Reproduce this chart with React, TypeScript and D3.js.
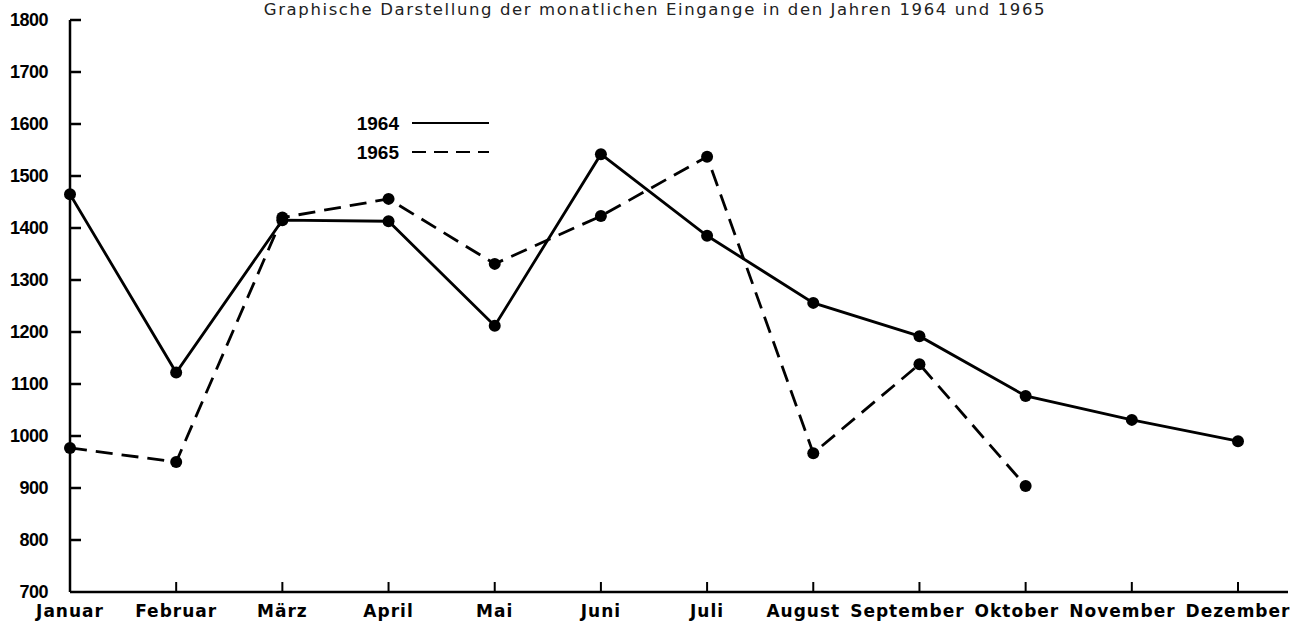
import React, { useEffect, useRef } from "react";
import * as d3 from "d3";

const months = ["Januar", "Februar", "März", "April", "Mai", "Juni", "Juli", "August", "September", "Oktober", "November", "Dezember"];
const values1964 = [1465, 1122, 1415, 1413, 1212, 1542, 1385, 1256, 1192, 1077, 1031, 990];
const values1965 = [977, 950, 1420, 1456, 1331, 1423, 1537, 967, 1138, 904];
const yTicks = [700, 800, 900, 1000, 1100, 1200, 1300, 1400, 1500, 1600, 1700, 1800];
const title = "Graphische Darstellung der monatlichen Eingange in den Jahren 1964 und 1965";

const App = () => {
  const svgRef = useRef<SVGSVGElement>(null);

  useEffect(() => {
    document.body.style.margin = "0";
    const svg = d3.select(svgRef.current);
    svg.selectAll("*").remove();

    const width = 1297;
    const height = 623;
    const left = 70;
    const right = 1238;
    const top = 20;
    const bottom = 592;

    const x = d3.scalePoint<string>().domain(months).range([left, right]);
    const y = d3.scaleLinear().domain([700, 1800]).range([bottom, top]);

    svg.attr("width", width).attr("height", height);

    // title
    svg
      .append("text")
      .attr("x", 655)
      .attr("y", 15)
      .attr("text-anchor", "middle")
      .style("font-family", "'DejaVu Sans', sans-serif")
      .style("font-size", "16.5px")
      .style("letter-spacing", "1.6px")
      .style("fill", "#222")
      .text(title);

    // axes
    svg.append("line").attr("x1", left).attr("x2", left).attr("y1", top).attr("y2", bottom)
      .attr("stroke", "black").attr("stroke-width", 2.5);
    svg.append("line").attr("x1", left).attr("x2", 1288).attr("y1", bottom).attr("y2", bottom)
      .attr("stroke", "black").attr("stroke-width", 2.5);

    const yAxis = svg.append("g");
    yTicks.forEach((t) => {
      if (t !== 700) {
        yAxis.append("line").attr("x1", left).attr("x2", left + 11).attr("y1", y(t)).attr("y2", y(t))
          .attr("stroke", "black").attr("stroke-width", 2.5);
      }
      yAxis
        .append("text")
        .attr("x", 48)
        .attr("y", y(t))
        .attr("dy", "0.36em")
        .attr("text-anchor", "end")
        .style("font-family", "'Liberation Sans', Arial, sans-serif")
        .style("font-weight", "bold")
        .style("font-size", "18px")
        .style("letter-spacing", "-0.5px")
        .text(t);
    });

    const xAxis = svg.append("g");
    months.forEach((m, i) => {
      if (i > 0) {
        xAxis.append("line").attr("x1", x(m)).attr("x2", x(m)).attr("y1", bottom).attr("y2", bottom - 10)
          .attr("stroke", "black").attr("stroke-width", 2);
      }
    });
    const labels = xAxis
      .selectAll("text")
      .data(months)
      .enter()
      .append("text")
      .attr("x", (d) => x(d) as number)
      .attr("y", 617)
      .attr("text-anchor", "middle")
      .style("font-family", "'DejaVu Sans', sans-serif")
      .style("font-weight", "bold")
      .style("font-size", "17px")
      .style("letter-spacing", "1px")
      .text((d) => d);

    // push crowded labels left so they fit inside the picture
    const nodes = labels.nodes() as SVGTextElement[];
    let limit = width - 5;
    for (let i = nodes.length - 1; i >= 0; i--) {
      const w = nodes[i].getComputedTextLength();
      let cx = x(months[i]) as number;
      if (cx + w / 2 > limit) cx = limit - w / 2;
      d3.select(nodes[i]).attr("x", cx);
      limit = cx - w / 2 - 10;
    }

    // lines
    const line = d3
      .line<number>()
      .x((d, i) => x(months[i]) as number)
      .y((d) => y(d));

    svg.append("path").datum(values1964).attr("d", line).attr("fill", "none")
      .attr("stroke", "black").attr("stroke-width", 2.8);
    svg.append("path").datum(values1965).attr("d", line).attr("fill", "none")
      .attr("stroke", "black").attr("stroke-width", 2.8).attr("stroke-dasharray", "17 9");

    [values1964, values1965].forEach((vals) => {
      svg
        .append("g")
        .selectAll("circle")
        .data(vals)
        .enter()
        .append("circle")
        .attr("cx", (d, i) => x(months[i]) as number)
        .attr("cy", (d) => y(d))
        .attr("r", 6)
        .attr("fill", "black");
    });

    // legend
    const legend = svg.append("g");
    [["1964", ""], ["1965", "14 8"]].forEach(([label, dash], i) => {
      const ly = 123 + i * 29;
      legend
        .append("text")
        .attr("x", 399)
        .attr("y", ly)
        .attr("dy", "0.36em")
        .attr("text-anchor", "end")
        .style("font-family", "'Liberation Sans', Arial, sans-serif")
        .style("font-weight", "bold")
        .style("font-size", "19px")
        .text(label);
      legend
        .append("line")
        .attr("x1", 412)
        .attr("x2", 489)
        .attr("y1", ly)
        .attr("y2", ly)
        .attr("stroke", "black")
        .attr("stroke-width", 2.2)
        .attr("stroke-dasharray", dash || null);
    });
  }, []);

  return <svg ref={svgRef} style={{ display: "block" }}></svg>;
};

export default App;
